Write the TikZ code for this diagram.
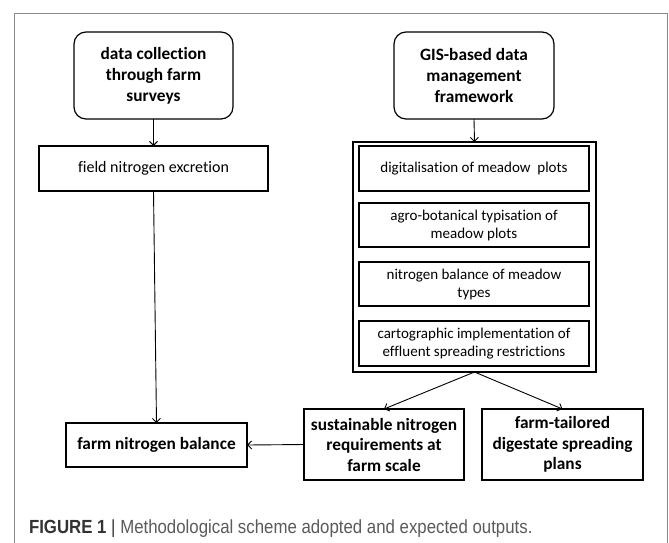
\documentclass[tikz,border=0pt]{standalone}
\usepackage{fontspec}
\setmainfont{Carlito}[Ligatures={NoCommon}]
\newfontfamily\capfont{Liberation Sans}
\usetikzlibrary{arrows.meta}
\definecolor{framegray}{HTML}{8A8A8A}
\definecolor{captxt}{HTML}{5A5A5A}
\definecolor{capdark}{HTML}{333333}
\begin{document}
\begin{tikzpicture}[x=1pt,y=-1pt,
  every node/.style={inner sep=0pt, outer sep=0pt},
  headbox/.style={draw, line width=1.2pt, rounded corners=12pt, align=center,
    font=\fontsize{17.3}{21}\selectfont\bfseries},
  plainbox/.style={draw, line width=1.2pt, align=center,
    font=\fontsize{15}{18}\selectfont},
  outbox/.style={draw, line width=1.2pt, align=center,
    font=\fontsize{17.3}{20.5}\selectfont\bfseries},
  conbox/.style={draw, line width=1.4pt},
  arr/.style={-{Straight Barb[length=4pt,width=8pt]}, line width=0.9pt}
]
\useasboundingbox (0,0) rectangle (669,542);
\draw[framegray, line width=1pt] (14,545) -- (14,13) -- (667,13) -- (667,545);

\node[headbox, minimum width=159pt, minimum height=87pt] (dc) at (153.5,75.5)
  {data collection\\through farm\\surveys};
\node[headbox, minimum width=160pt, minimum height=87pt] (gis) at (474,75.5)
  {GIS-based data\\management\\framework};

\node[plainbox, minimum width=229pt, minimum height=45pt,
  font=\fontsize{16}{18}\selectfont] (fne) at (153.5,168.5)
  {field nitrogen excretion};

\node[conbox, minimum width=243pt, minimum height=230pt] (con) at (474.5,257) {};
\node[plainbox, minimum width=230pt, minimum height=45pt] (b1) at (474,168.5)
  {digitalisation of meadow\ \ plots};
\node[plainbox, minimum width=230pt, minimum height=44pt] (b2) at (474,225)
  {agro-botanical typisation of\\meadow plots};
\node[plainbox, minimum width=230pt, minimum height=44pt] (b3) at (474,284)
  {nitrogen balance of meadow\\types};
\node[plainbox, minimum width=230pt, minimum height=45pt] (b4) at (474,343.5)
  {cartographic implementation of\\effluent spreading restrictions};

\node[outbox, minimum width=181pt, minimum height=44pt] (fnb) at (156.5,445)
  {farm nitrogen balance};
\node[outbox, minimum width=160pt, minimum height=71pt] (snr) at (384,444.5)
  {sustainable nitrogen\\requirements at\\farm scale};
\node[outbox, minimum width=161pt, minimum height=71pt] (dsp) at (562.5,444.5)
  {farm-tailored\\digestate spreading\\plans};

\draw[arr] (dc.south) -- (fne.north);
\draw[arr] (gis.south) -- (con.north);
\draw[arr] (fne.south) -- (fnb.north);
\draw[arr] (con.south) -- (snr.north);
\draw[arr] (con.south) -- (dsp.north);
\draw[arr] (snr.west) -- (fnb.east);

\node[anchor=base west, font=\capfont\fontsize{19}{22}\selectfont] (cap) at (29,533)
  {\scalebox{0.885}[1]{\textcolor{capdark}{\textbf{FIGURE 1}} \textcolor{capdark}{|} \textcolor{captxt}{Methodological scheme adopted and expected outputs.}}};
\end{tikzpicture}
\end{document}
